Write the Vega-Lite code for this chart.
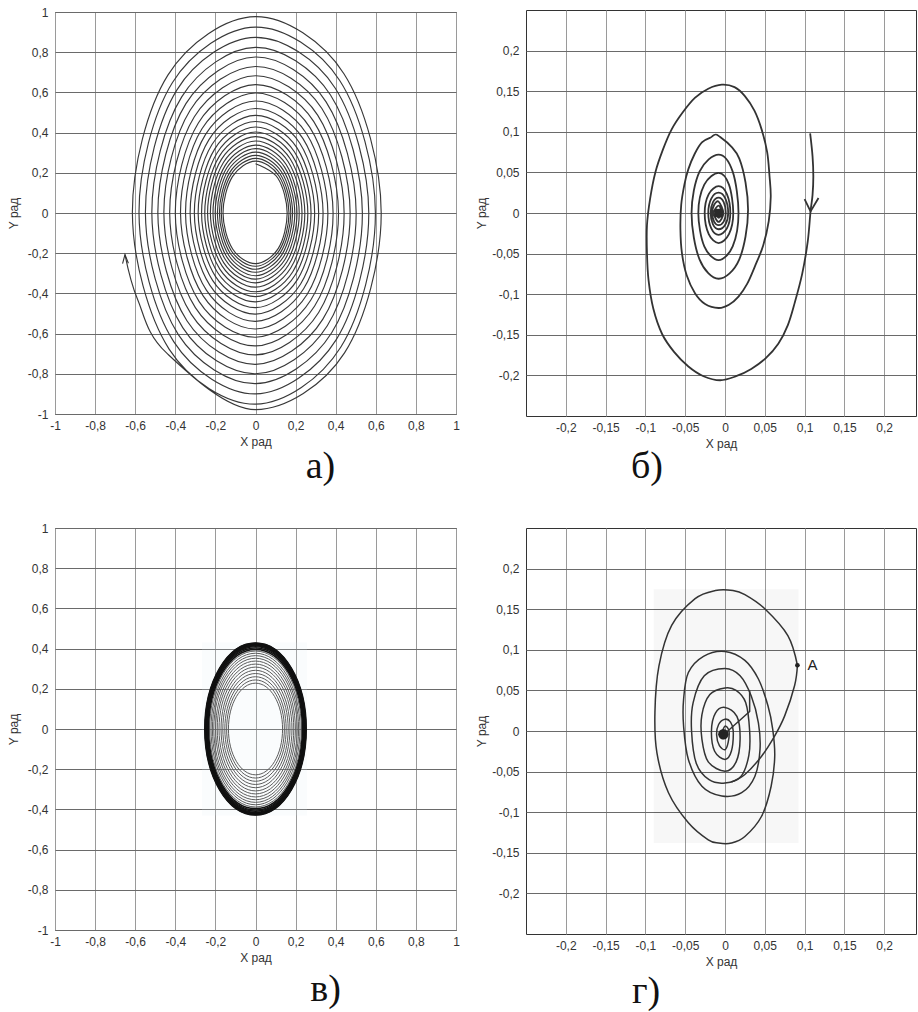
{
"$schema":"https://vega.github.io/schema/vega-lite/v6.json",
"background":"white",
"padding":{"left":6,"top":5,"right":0,"bottom":0},
"config":{
"view":{"stroke":"#333","strokeWidth":1},
"axis":{"labelFont":"Liberation Sans","labelFontSize":12,"labelColor":"#333","titleFont":"Liberation Sans","titleFontSize":12,"titleFontWeight":"normal","titleColor":"#333","ticks":false,"domain":false,"labelFlush":false,"labelOverlap":false,"gridOpacity":1,"gridWidth":1,"labelPadding":6},
"axisX":{"gridColor":"#9a9a9a","titlePadding":5},
"axisY":{"gridColor":"#6a6a6a","labelPadding":7,"titlePadding":7}
},
"datasets":{
"a":[
{"x":0,"y":0.245},{"x":0.111,"y":0.174},{"x":0.158,"y":0},{"x":0.113,"y":-0.177},{"x":0,"y":-0.252},{"x":-0.114,"y":-0.179},{"x":-0.162,"y":0},{"x":-0.115,"y":0.181},
{"x":0,"y":0.258},{"x":0.117,"y":0.184},{"x":0.167,"y":0},{"x":0.119,"y":-0.186},{"x":0,"y":-0.265},{"x":-0.120,"y":-0.189},{"x":-0.171,"y":0},{"x":-0.122,"y":0.191},
{"x":0,"y":0.272},{"x":0.123,"y":0.194},{"x":0.176,"y":0},{"x":0.125,"y":-0.196},{"x":0,"y":-0.280},{"x":-0.127,"y":-0.199},{"x":-0.180,"y":0},{"x":-0.128,"y":0.202},
{"x":0,"y":0.287},{"x":0.130,"y":0.204},{"x":0.185,"y":0},{"x":0.132,"y":-0.207},{"x":0,"y":-0.295},{"x":-0.134,"y":-0.210},{"x":-0.190,"y":0},{"x":-0.136,"y":0.213},
{"x":0,"y":0.303},{"x":0.137,"y":0.216},{"x":0.196,"y":0},{"x":0.139,"y":-0.219},{"x":0,"y":-0.312},{"x":-0.141,"y":-0.222},{"x":-0.201,"y":0},{"x":-0.143,"y":0.225},
{"x":0,"y":0.320},{"x":0.145,"y":0.228},{"x":0.207,"y":0},{"x":0.147,"y":-0.231},{"x":0,"y":-0.329},{"x":-0.149,"y":-0.234},{"x":-0.212,"y":0},{"x":-0.151,"y":0.237},
{"x":0,"y":0.338},{"x":0.153,"y":0.241},{"x":0.218,"y":0},{"x":0.156,"y":-0.244},{"x":0,"y":-0.348},{"x":-0.158,"y":-0.248},{"x":-0.225,"y":0},{"x":-0.160,"y":0.251},
{"x":0,"y":0.358},{"x":0.163,"y":0.255},{"x":0.232,"y":0},{"x":0.165,"y":-0.259},{"x":0,"y":-0.369},{"x":-0.167,"y":-0.263},{"x":-0.239,"y":0},{"x":-0.170,"y":0.267},
{"x":0,"y":0.380},{"x":0.172,"y":0.271},{"x":0.246,"y":0},{"x":0.175,"y":-0.275},{"x":0,"y":-0.392},{"x":-0.178,"y":-0.279},{"x":-0.253,"y":0},{"x":-0.180,"y":0.283},
{"x":0,"y":0.403},{"x":0.183,"y":0.287},{"x":0.261,"y":0},{"x":0.186,"y":-0.292},{"x":0,"y":-0.416},{"x":-0.189,"y":-0.296},{"x":-0.269,"y":0},{"x":-0.191,"y":0.300},
{"x":0,"y":0.428},{"x":0.194,"y":0.305},{"x":0.277,"y":0},{"x":0.197,"y":-0.310},{"x":0,"y":-0.442},{"x":-0.200,"y":-0.315},{"x":-0.286,"y":0},{"x":-0.203,"y":0.319},
{"x":0,"y":0.455},{"x":0.207,"y":0.324},{"x":0.295,"y":0},{"x":0.210,"y":-0.330},{"x":0,"y":-0.471},{"x":-0.214,"y":-0.335},{"x":-0.305,"y":0},{"x":-0.217,"y":0.341},
{"x":0,"y":0.486},{"x":0.221,"y":0.347},{"x":0.315,"y":0},{"x":0.225,"y":-0.353},{"x":0,"y":-0.503},{"x":-0.228,"y":-0.359},{"x":-0.326,"y":0},{"x":-0.232,"y":0.365},
{"x":0,"y":0.520},{"x":0.236,"y":0.371},{"x":0.337,"y":0},{"x":0.240,"y":-0.377},{"x":0,"y":-0.539},{"x":-0.245,"y":-0.384},{"x":-0.349,"y":0},{"x":-0.249,"y":0.391},
{"x":0,"y":0.557},{"x":0.253,"y":0.397},{"x":0.361,"y":0},{"x":0.258,"y":-0.404},{"x":0,"y":-0.577},{"x":-0.262,"y":-0.411},{"x":-0.374,"y":0},{"x":-0.267,"y":0.419},
{"x":0,"y":0.597},{"x":0.271,"y":0.426},{"x":0.387,"y":0},{"x":0.276,"y":-0.433},{"x":0,"y":-0.618},{"x":-0.281,"y":-0.441},{"x":-0.400,"y":0},{"x":-0.285,"y":0.448},
{"x":0,"y":0.639},{"x":0.290,"y":0.456},{"x":0.414,"y":0},{"x":0.295,"y":-0.463},{"x":0,"y":-0.661},{"x":-0.300,"y":-0.471},{"x":-0.428,"y":0},{"x":-0.305,"y":0.479},
{"x":0,"y":0.683},{"x":0.310,"y":0.487},{"x":0.442,"y":0},{"x":0.315,"y":-0.495},{"x":0,"y":-0.706},{"x":-0.321,"y":-0.503},{"x":-0.457,"y":0},{"x":-0.326,"y":0.511},
{"x":0,"y":0.729},{"x":0.331,"y":0.520},{"x":0.472,"y":0},{"x":0.336,"y":-0.528},{"x":0,"y":-0.753},{"x":-0.342,"y":-0.536},{"x":-0.487,"y":0},{"x":-0.347,"y":0.544},
{"x":0,"y":0.776},{"x":0.352,"y":0.553},{"x":0.502,"y":0},{"x":0.358,"y":-0.561},{"x":0,"y":-0.800},{"x":-0.363,"y":-0.570},{"x":-0.517,"y":0},{"x":-0.368,"y":0.578},
{"x":0,"y":0.824},{"x":0.374,"y":0.587},{"x":0.533,"y":0},{"x":0.380,"y":-0.596},{"x":0,"y":-0.849},{"x":-0.385,"y":-0.605},{"x":-0.549,"y":0},{"x":-0.391,"y":0.614},
{"x":0,"y":0.874},{"x":0.397,"y":0.622},{"x":0.565,"y":0},{"x":0.402,"y":-0.631},{"x":0,"y":-0.900},{"x":-0.408,"y":-0.640},{"x":-0.581,"y":0},{"x":-0.414,"y":0.649},
{"x":0,"y":0.925},{"x":0.420,"y":0.659},{"x":0.598,"y":0},{"x":0.425,"y":-0.668},{"x":0,"y":-0.951},{"x":-0.431,"y":-0.677},{"x":-0.614,"y":0},{"x":-0.437,"y":0.686},
{"x":0,"y":0.977},{"x":0.441,"y":0.693},{"x":0.627,"y":0},{"x":0.444,"y":-0.696},{"x":0,"y":-0.978},{"x":-0.445,"y":-0.695},{"x":-0.588,"y":-0.43},{"x":-0.651,"y":-0.207}
],
"aArrow":[{"x":-0.663,"y":-0.252},{"x":-0.651,"y":-0.207},{"x":-0.634,"y":-0.25}],
"b":[
{"x":0.107,"y":0.098},{"x":0.110,"y":0.070},{"x":0.111,"y":0.045},{"x":0.110,"y":0.022},{"x":0.1075,"y":0.002},{"x":0.104,"y":-0.035},{"x":0.097,"y":-0.075},{"x":0.0875,"y":-0.111},{"x":0.079,"y":-0.138},{"x":0.067,"y":-0.161},{"x":0.051,"y":-0.179},{"x":0.033,"y":-0.192},{"x":0.014,"y":-0.201},{"x":-0.006,"y":-0.206},{"x":-0.027,"y":-0.201},{"x":-0.046,"y":-0.189},{"x":-0.064,"y":-0.171},{"x":-0.079,"y":-0.149},{"x":-0.09,"y":-0.118},{"x":-0.096,"y":-0.083},{"x":-0.098,"y":-0.05},{"x":-0.098,"y":-0.015},{"x":-0.094,"y":0.018},{"x":-0.0875,"y":0.05},{"x":-0.078,"y":0.078},{"x":-0.067,"y":0.103},{"x":-0.053,"y":0.124},{"x":-0.0375,"y":0.142},{"x":-0.021,"y":0.153},{"x":-0.004,"y":0.158},{"x":0.012,"y":0.155},{"x":0.025,"y":0.144},{"x":0.037,"y":0.126},{"x":0.046,"y":0.103},{"x":0.053,"y":0.075},{"x":0.056,"y":0.045},{"x":0.0575,"y":0.02},{"x":0.055,"y":-0.01},{"x":0.048,"y":-0.04},{"x":0.0375,"y":-0.066},{"x":0.028,"y":-0.087},{"x":0.017,"y":-0.103},{"x":0.005,"y":-0.113},{"x":-0.008,"y":-0.117},{"x":-0.025,"y":-0.112},{"x":-0.0375,"y":-0.099},{"x":-0.048,"y":-0.077},{"x":-0.054,"y":-0.05},{"x":-0.056,"y":-0.02},{"x":-0.055,"y":0.01},{"x":-0.051,"y":0.035},{"x":-0.046,"y":0.054},{"x":-0.038,"y":0.073},{"x":-0.029,"y":0.087},{"x":-0.018,"y":0.093},{"x":-0.008,"y":0.095},
{"x":0.018,"y":0.067},{"x":0.029,"y":0.004},{"x":0.018,"y":-0.057},{"x":-0.008,"y":-0.081},{"x":-0.032,"y":-0.057},{"x":-0.042,"y":0.0},{"x":-0.032,"y":0.051},{"x":-0.008,"y":0.072},
{"x":0.0097,"y":0.051},{"x":0.017,"y":0.0},{"x":0.0097,"y":-0.041},{"x":-0.008,"y":-0.058},{"x":-0.026,"y":-0.041},{"x":-0.0335,"y":0.0},{"x":-0.026,"y":0.035},{"x":-0.008,"y":0.0495},
{"x":0.005,"y":0.035},{"x":0.0104,"y":0.0},{"x":0.005,"y":-0.026},{"x":-0.008,"y":-0.037},{"x":-0.0204,"y":-0.026},{"x":-0.0255,"y":0.0},{"x":-0.0204,"y":0.0233},{"x":-0.008,"y":0.033},
{"x":0.0024,"y":0.0233},{"x":0.0067,"y":0.0},{"x":0.0024,"y":-0.019},{"x":-0.008,"y":-0.027},{"x":-0.0172,"y":-0.019},{"x":-0.021,"y":0.0},{"x":-0.0172,"y":0.0177},{"x":-0.008,"y":0.025},
{"x":0.0005,"y":0.0177},{"x":0.004,"y":0.0},{"x":0.0005,"y":-0.0141},{"x":-0.008,"y":-0.02},{"x":-0.0151,"y":-0.0141},{"x":-0.018,"y":0.0},{"x":-0.0151,"y":0.0134},{"x":-0.008,"y":0.019},
{"x":-0.0016,"y":0.0134},{"x":0.001,"y":0.0},{"x":-0.0016,"y":-0.0106},{"x":-0.008,"y":-0.015},{"x":-0.0137,"y":-0.0106},{"x":-0.016,"y":0.0},{"x":-0.0137,"y":0.0099},{"x":-0.008,"y":0.014},
{"x":-0.002,"y":0.0},{"x":-0.008,"y":-0.011},{"x":-0.014,"y":0.0},{"x":-0.008,"y":0.009},{"x":-0.004,"y":0.0},{"x":-0.008,"y":-0.006},{"x":-0.011,"y":0.0},{"x":-0.008,"y":0.004}
],
"bArrow":[{"x":0.1,"y":0.017},{"x":0.1075,"y":0.002},{"x":0.1175,"y":0.0185}],
"bBlob":[{"x":-0.008,"y":0.0}],
"cbg":[{"x":-0.267,"x2":0.257,"y":-0.43,"y2":0.43}],
"c1":[
{"r":1,"x":0,"y":0.228},{"r":1,"x":0.135,"y":0},{"r":1,"x":0,"y":-0.228},{"r":1,"x":-0.135,"y":0},
{"r":2,"x":0,"y":0.244},{"r":2,"x":0.144,"y":0},{"r":2,"x":0,"y":-0.244},{"r":2,"x":-0.144,"y":0},
{"r":3,"x":0,"y":0.260},{"r":3,"x":0.153,"y":0},{"r":3,"x":0,"y":-0.260},{"r":3,"x":-0.153,"y":0},
{"r":4,"x":0,"y":0.276},{"r":4,"x":0.163,"y":0},{"r":4,"x":0,"y":-0.276},{"r":4,"x":-0.163,"y":0},
{"r":5,"x":0,"y":0.292},{"r":5,"x":0.172,"y":0},{"r":5,"x":0,"y":-0.292},{"r":5,"x":-0.172,"y":0},
{"r":6,"x":0,"y":0.308},{"r":6,"x":0.182,"y":0},{"r":6,"x":0,"y":-0.308},{"r":6,"x":-0.182,"y":0},
{"r":7,"x":0,"y":0.323},{"r":7,"x":0.191,"y":0},{"r":7,"x":0,"y":-0.323},{"r":7,"x":-0.191,"y":0},
{"r":8,"x":0,"y":0.338},{"r":8,"x":0.199,"y":0},{"r":8,"x":0,"y":-0.338},{"r":8,"x":-0.199,"y":0},
{"r":9,"x":0,"y":0.352},{"r":9,"x":0.208,"y":0},{"r":9,"x":0,"y":-0.352},{"r":9,"x":-0.208,"y":0},
{"r":10,"x":0,"y":0.365},{"r":10,"x":0.215,"y":0},{"r":10,"x":0,"y":-0.365},{"r":10,"x":-0.215,"y":0},
{"r":11,"x":0,"y":0.377},{"r":11,"x":0.222,"y":0},{"r":11,"x":0,"y":-0.377},{"r":11,"x":-0.222,"y":0},
{"r":12,"x":0,"y":0.388},{"r":12,"x":0.229,"y":0},{"r":12,"x":0,"y":-0.388},{"r":12,"x":-0.229,"y":0}
],
"c2":[
{"r":13,"x":0,"y":0.396},{"r":13,"x":0.234,"y":0},{"r":13,"x":0,"y":-0.396},{"r":13,"x":-0.234,"y":0},
{"r":14,"x":0,"y":0.403},{"r":14,"x":0.238,"y":0},{"r":14,"x":0,"y":-0.403},{"r":14,"x":-0.238,"y":0},
{"r":15,"x":0,"y":0.409},{"r":15,"x":0.241,"y":0},{"r":15,"x":0,"y":-0.409},{"r":15,"x":-0.241,"y":0},
{"r":16,"x":0,"y":0.414},{"r":16,"x":0.244,"y":0},{"r":16,"x":0,"y":-0.414},{"r":16,"x":-0.244,"y":0},
{"r":17,"x":0,"y":0.418},{"r":17,"x":0.247,"y":0},{"r":17,"x":0,"y":-0.418},{"r":17,"x":-0.247,"y":0},
{"r":18,"x":0,"y":0.421},{"r":18,"x":0.248,"y":0},{"r":18,"x":0,"y":-0.421},{"r":18,"x":-0.248,"y":0},
{"r":19,"x":0,"y":0.424},{"r":19,"x":0.250,"y":0},{"r":19,"x":0,"y":-0.424},{"r":19,"x":-0.250,"y":0},
{"r":20,"x":0,"y":0.426},{"r":20,"x":0.251,"y":0},{"r":20,"x":0,"y":-0.426},{"r":20,"x":-0.251,"y":0},
{"r":21,"x":0,"y":0.428},{"r":21,"x":0.253,"y":0},{"r":21,"x":0,"y":-0.428},{"r":21,"x":-0.253,"y":0}
],
"dbg":[{"x":-0.0896,"x2":0.0925,"y":-0.138,"y2":0.1745}],
"d1":[
{"x":0.091,"y":0.081},{"x":0.079,"y":0.1175},{"x":0.05,"y":0.1506},{"x":0.025,"y":0.168},{"x":0.010,"y":0.173},{"x":-0.012,"y":0.173},{"x":-0.0375,"y":0.163},{"x":-0.067,"y":0.13},{"x":-0.083,"y":0.080},{"x":-0.088,"y":0.023},{"x":-0.0855,"y":-0.027},{"x":-0.071,"y":-0.076},{"x":-0.046,"y":-0.113},{"x":-0.021,"y":-0.134},{"x":-0.008,"y":-0.138},{"x":0.008,"y":-0.138},{"x":0.025,"y":-0.130},{"x":0.046,"y":-0.105},{"x":0.058,"y":-0.068},{"x":0.0625,"y":-0.031},{"x":0.060,"y":0.002},{"x":0.054,"y":0.031},{"x":0.042,"y":0.064},{"x":0.025,"y":0.087},{"x":0.0,"y":0.098},
{"x":-0.027,"y":0.092},{"x":-0.046,"y":0.072},{"x":-0.052,"y":0.039},{"x":-0.052,"y":0.006},{"x":-0.046,"y":-0.035},{"x":-0.029,"y":-0.068},{"x":-0.004,"y":-0.080},{"x":0.021,"y":-0.076},{"x":0.0375,"y":-0.056},{"x":0.044,"y":-0.023},{"x":0.042,"y":0.010},{"x":0.033,"y":0.043},{"x":0.019,"y":0.068},{"x":0.0,"y":0.077},
{"x":-0.026,"y":0.068},{"x":-0.040,"y":0.035},{"x":-0.042,"y":0.0},{"x":-0.036,"y":-0.040},{"x":-0.020,"y":-0.060},{"x":0.0,"y":-0.064},{"x":0.020,"y":-0.056},{"x":0.030,"y":-0.030},{"x":0.031,"y":0.0},{"x":0.026,"y":0.035},{"x":0.014,"y":0.050},{"x":0.0,"y":0.053},
{"x":-0.019,"y":0.045},{"x":-0.029,"y":0.02},{"x":-0.029,"y":-0.01},{"x":-0.021,"y":-0.038},{"x":0.0,"y":-0.0495},{"x":0.014,"y":-0.038},{"x":0.019,"y":-0.01},{"x":0.015,"y":0.018},{"x":0.0,"y":0.029},
{"x":-0.012,"y":0.022},{"x":-0.017,"y":0.0},{"x":-0.013,"y":-0.025},{"x":0.0,"y":-0.035},{"x":0.008,"y":-0.025},{"x":0.0104,"y":0.0},{"x":0.007,"y":0.011},{"x":0.0,"y":0.0145},
{"x":-0.008,"y":0.008},{"x":-0.0105,"y":-0.005},{"x":-0.007,"y":-0.018},{"x":0.0,"y":-0.023},{"x":0.004,"y":-0.014},{"x":0.005,"y":0.0},{"x":0.0,"y":0.006},{"x":-0.004,"y":-0.004},{"x":-0.002,"y":-0.01}
],
"d2":[{"x":0.091,"y":0.081},{"x":0.0875,"y":0.056},{"x":0.075,"y":0.0186},{"x":0.0625,"y":-0.006},{"x":0.046,"y":-0.031},{"x":0.025,"y":-0.0536},{"x":0.008,"y":-0.063}],
"d3":[{"x":0.0,"y":-0.003},{"x":0.031,"y":0.024},{"x":0.031,"y":0.05}],
"dA":[{"x":0.091,"y":0.081,"t":"A"}],
"dBlob":[{"x":-0.002,"y":-0.004}]
},
"columns":2,
"spacing":{"row":112,"column":70},
"bounds":"flush",
"center":true,
"concat":[
{
"width":401,"height":402,
"title":{"text":"а)","orient":"bottom","anchor":"middle","frame":"group","offset":20,"dx":65,"baseline":"middle","font":"Liberation Serif","fontSize":38,"fontWeight":"normal","color":"#111"},
"encoding":{
"x":{"field":"x","type":"quantitative","scale":{"domain":[-1,1],"nice":false,"zero":false},"axis":{"title":"X рад","values":[-1,-0.8,-0.6,-0.4,-0.2,0,0.2,0.4,0.6,0.8,1],"labelExpr":"replace(toString(datum.value), '.', ',')"}},
"y":{"field":"y","type":"quantitative","scale":{"domain":[-1,1],"nice":false,"zero":false},"axis":{"title":"Y рад","values":[-1,-0.8,-0.6,-0.4,-0.2,0,0.2,0.4,0.6,0.8,1],"labelExpr":"replace(toString(datum.value), '.', ',')"}}
},
"layer":[
{"data":{"name":"a"},"mark":{"type":"line","interpolate":"cardinal","strokeWidth":1.15,"color":"#383838"},"encoding":{"order":{"value":null}}},
{"data":{"name":"aArrow"},"mark":{"type":"line","strokeWidth":1.1,"color":"#333"},"encoding":{"order":{"value":null}}}
]
},
{
"width":390,"height":406,
"title":{"text":"б)","orient":"bottom","anchor":"middle","frame":"group","offset":18,"dx":-74,"baseline":"middle","font":"Liberation Serif","fontSize":38,"fontWeight":"normal","color":"#111"},
"encoding":{
"x":{"field":"x","type":"quantitative","scale":{"domain":[-0.25,0.24],"nice":false,"zero":false},"axis":{"title":"X рад","values":[-0.2,-0.15,-0.1,-0.05,0,0.05,0.1,0.15,0.2],"labelExpr":"replace(toString(datum.value), '.', ',')"}},
"y":{"field":"y","type":"quantitative","scale":{"domain":[-0.25,0.25],"nice":false,"zero":false},"axis":{"title":"Y рад","titlePadding":3,"values":[-0.2,-0.15,-0.1,-0.05,0,0.05,0.1,0.15,0.2],"labelExpr":"replace(toString(datum.value), '.', ',')"}}
},
"layer":[
{"data":{"name":"b"},"mark":{"type":"line","interpolate":"cardinal","strokeWidth":1.8,"color":"#333"},"encoding":{"order":{"value":null}}},
{"data":{"name":"bArrow"},"mark":{"type":"line","strokeWidth":1.8,"color":"#333"},"encoding":{"order":{"value":null}}},
{"data":{"name":"bBlob"},"mark":{"type":"point","shape":"square","filled":true,"size":70,"color":"#2a2a2a","opacity":1}}
]
},
{
"width":401,"height":402,
"title":{"text":"в)","orient":"bottom","anchor":"middle","frame":"group","offset":27,"dx":70,"baseline":"middle","font":"Liberation Serif","fontSize":38,"fontWeight":"normal","color":"#111"},
"encoding":{
"x":{"field":"x","type":"quantitative","scale":{"domain":[-1,1],"nice":false,"zero":false},"axis":{"title":"X рад","values":[-1,-0.8,-0.6,-0.4,-0.2,0,0.2,0.4,0.6,0.8,1],"labelExpr":"replace(toString(datum.value), '.', ',')"}},
"y":{"field":"y","type":"quantitative","scale":{"domain":[-1,1],"nice":false,"zero":false},"axis":{"title":"Y рад","values":[-1,-0.8,-0.6,-0.4,-0.2,0,0.2,0.4,0.6,0.8,1],"labelExpr":"replace(toString(datum.value), '.', ',')"}}
},
"layer":[
{"data":{"name":"cbg"},"mark":{"type":"rect","color":"#dcebf2","opacity":0.15},"encoding":{"x2":{"field":"x2"},"y2":{"field":"y2"}}},
{"data":{"name":"c1"},"mark":{"type":"line","interpolate":"cardinal-closed","tension":-0.657,"strokeWidth":1,"color":"#5c5c5c"},"encoding":{"detail":{"field":"r","type":"nominal"},"order":{"value":null}}},
{"data":{"name":"c2"},"mark":{"type":"line","interpolate":"cardinal-closed","tension":-0.657,"strokeWidth":1.5,"color":"#111"},"encoding":{"detail":{"field":"r","type":"nominal"},"order":{"value":null}}}
]
},
{
"width":390,"height":406,
"title":{"text":"г)","orient":"bottom","anchor":"middle","frame":"group","offset":25,"dx":-75,"baseline":"middle","font":"Liberation Serif","fontSize":38,"fontWeight":"normal","color":"#111"},
"encoding":{
"x":{"field":"x","type":"quantitative","scale":{"domain":[-0.25,0.24],"nice":false,"zero":false},"axis":{"title":"X рад","values":[-0.2,-0.15,-0.1,-0.05,0,0.05,0.1,0.15,0.2],"labelExpr":"replace(toString(datum.value), '.', ',')"}},
"y":{"field":"y","type":"quantitative","scale":{"domain":[-0.25,0.25],"nice":false,"zero":false},"axis":{"title":"Y рад","titlePadding":3,"values":[-0.2,-0.15,-0.1,-0.05,0,0.05,0.1,0.15,0.2],"labelExpr":"replace(toString(datum.value), '.', ',')"}}
},
"layer":[
{"data":{"name":"dbg"},"mark":{"type":"rect","color":"#000","opacity":0.03},"encoding":{"x2":{"field":"x2"},"y2":{"field":"y2"}}},
{"data":{"name":"d1"},"mark":{"type":"line","interpolate":"cardinal","strokeWidth":1.5,"color":"#333"},"encoding":{"order":{"value":null}}},
{"data":{"name":"d2"},"mark":{"type":"line","interpolate":"cardinal","strokeWidth":1.5,"color":"#333"},"encoding":{"order":{"value":null}}},
{"data":{"name":"d3"},"mark":{"type":"line","strokeWidth":1.5,"color":"#333"},"encoding":{"order":{"value":null}}},
{"data":{"name":"dBlob"},"mark":{"type":"point","shape":"circle","filled":true,"size":110,"color":"#222","opacity":1}},
{"data":{"name":"dA"},"mark":{"type":"point","shape":"circle","filled":true,"size":22,"color":"#222","opacity":1}},
{"data":{"name":"dA"},"mark":{"type":"text","align":"left","baseline":"middle","dx":10,"font":"Liberation Sans","fontSize":15,"color":"#222"},"encoding":{"text":{"field":"t"}}}
]
}
]
}
